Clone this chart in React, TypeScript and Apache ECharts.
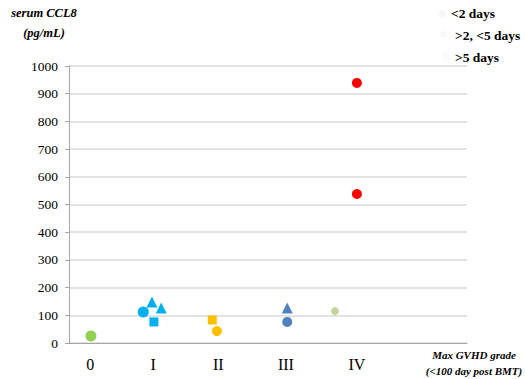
import React, { useEffect, useRef } from "react";
import * as echarts from "echarts";

const categories = ["0", "I", "II", "III", "IV"];
const categoryPositions = [0.32, 1.27, 2.25, 3.27, 4.34];
const yTicks = [0, 100, 200, 300, 400, 500, 600, 700, 800, 900, 1000];

const grade0Circles = [[0.33, 25]];
const gradeICircles = [[1.12, 112]];
const gradeITriangles = [[1.25, 148], [1.39, 126]];
const gradeISquares = [[1.28, 76]];
const gradeIISquares = [[2.16, 83]];
const gradeIICircles = [[2.23, 43]];
const gradeIIITriangles = [[3.29, 126]];
const gradeIIICircles = [[3.29, 76]];
const gradeIVSmall = [[4.01, 115]];
const gradeIVCircles = [[4.34, 939], [4.34, 538]];

const legendLabels = ["<2 days", ">2, <5 days", ">5 days"];

const SERIF = "'Liberation Serif', 'Times New Roman', serif";

export default function App() {
  const ref = useRef<HTMLDivElement>(null);
  useEffect(() => {
    if (!ref.current) return;
    const chart = echarts.init(ref.current, null, { renderer: "svg" });
    const mk = (data: number[][], color: string, symbol: string, size: number) => ({
      type: "scatter",
      data,
      symbol,
      symbolSize: size,
      itemStyle: { color, opacity: 1 },
      emphasis: { disabled: true },
    });
    const txt = (text: string, x: number, y: number, font: string, align: string) => ({
      type: "text",
      x,
      y,
      style: { text, font, fill: "#000", align, verticalAlign: "middle" },
    });
    chart.setOption({
      animation: false,
      grid: { left: 69, top: 66, right: 58, bottom: 36, containLabel: false },
      xAxis: {
        type: "value",
        min: 0,
        max: 6,
        splitLine: { show: false },
        axisTick: { show: false },
        axisLine: { show: true, lineStyle: { color: "#a6a6a6", width: 1 } },
        axisLabel: {
          customValues: categoryPositions,
          formatter: (v: number) => {
            let best = 0;
            categoryPositions.forEach((p, i) => {
              if (Math.abs(p - v) < Math.abs(categoryPositions[best] - v)) best = i;
            });
            return categories[best];
          },
          color: "#000",
          fontFamily: SERIF,
          fontSize: 16,
          margin: 13,
        },
      },
      yAxis: {
        type: "value",
        min: 0,
        max: 1000,
        interval: 100,
        axisLine: { show: true, lineStyle: { color: "#a6a6a6", width: 1 } },
        axisTick: { show: true, inside: false, length: 4, lineStyle: { color: "#a6a6a6" } },
        splitLine: { show: true, lineStyle: { color: "#d9d9d9", width: 1.5 } },
        axisLabel: {
          color: "#000",
          fontFamily: SERIF,
          fontSize: 13.5,
          margin: 11,
          formatter: (v: number) => (yTicks.includes(v) ? String(v) : ""),
        },
      },
      series: [
        mk(grade0Circles, "#92d050", "circle", 11),
        mk(gradeICircles, "#00b0f0", "circle", 11),
        mk(gradeITriangles, "#00b0f0", "triangle", 11),
        mk(gradeISquares, "#00b0f0", "rect", 9),
        mk(gradeIISquares, "#ffc000", "rect", 9),
        mk(gradeIICircles, "#ffc000", "circle", 10),
        mk(gradeIIITriangles, "#4f81bd", "triangle", 11),
        mk(gradeIIICircles, "#4f81bd", "circle", 10),
        mk(gradeIVSmall, "#c3d69b", "circle", 8),
        mk(gradeIVCircles, "#ff0000", "circle", 10),
      ],
      graphic: [
        txt("serum CCL8", 44, 13, `italic bold 12.5px ${SERIF}`, "center"),
        txt("(pg/mL)", 44, 33, `italic bold 12.5px ${SERIF}`, "center"),
        txt("Max GVHD grade", 474, 355, `italic bold 11px ${SERIF}`, "center"),
        txt("(<100 day post BMT)", 474, 371, `italic bold 11px ${SERIF}`, "center"),
        { type: "circle", shape: { cx: 442, cy: 14, r: 4 }, style: { fill: "#f7f7f7" } },
        { type: "polygon", shape: { points: [[443, 29], [439, 37], [447, 37]] }, style: { fill: "#f7f7f7" } },
        { type: "rect", shape: { x: 442, y: 53, width: 7, height: 7 }, style: { fill: "#fafafa" } },
        txt(legendLabels[0], 451, 13, `bold 13.5px ${SERIF}`, "left"),
        txt(legendLabels[1], 455, 35, `bold 13.5px ${SERIF}`, "left"),
        txt(legendLabels[2], 455, 57, `bold 13.5px ${SERIF}`, "left"),
      ],
    });
    return () => chart.dispose();
  }, []);
  return <div ref={ref} style={{ width: 525, height: 379, position: "absolute", left: 0, top: 0, background: "#fff" }} />;
}
